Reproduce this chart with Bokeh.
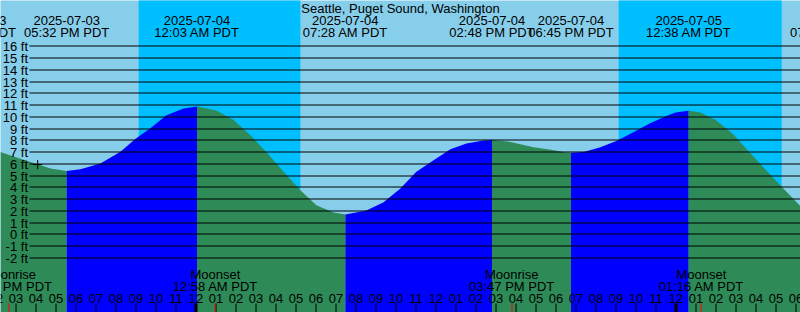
import math
import pandas as pd
from bokeh.plotting import figure
from bokeh.models import Range1d
from bokeh.core.properties import value
from bokeh.embed import file_html
from bokeh.resources import INLINE

# ---------------- data ----------------
title = "Seattle, Puget Sound, Washington"
ref_time = pd.Timestamp("2025-07-04 00:00")   # hours below are counted from this instant (PDT)

tide_event_times = ["2025-07-03 12:52", "2025-07-03 17:32", "2025-07-04 00:03", "2025-07-04 07:28",
                    "2025-07-04 14:48", "2025-07-04 18:45", "2025-07-05 00:38", "2025-07-05 07:50"]
tide_event_kinds = ["high", "low", "high", "low", "high", "low", "high", "low"]

# water level (ft), hours relative to 2025-07-04 00:00 PDT
curve_hours = [-9.78, -8.78, -7.92, -7.27, -6.47, -5.78, -4.78, -3.78, -3.02, -2.28, -1.48, -0.62,
               0.05, 1.02, 1.88, 2.72, 3.58, 4.38, 5.22, 6.02, 6.88, 7.47, 8.52, 9.38, 10.22,
               11.02, 11.88, 12.72, 13.52, 14.38, 14.80, 15.72, 16.88, 17.68, 18.52, 18.75, 19.38,
               20.18, 21.02, 21.82, 22.68, 23.52, 23.98, 24.63, 25.22, 25.98, 26.82, 27.62, 28.48,
               29.32, 30.22, 30.40]
curve_levels = [6.98, 6.40, 5.93, 5.56, 5.35, 5.50, 6.00, 7.00, 8.10, 9.00, 10.10, 10.67,
                10.85, 10.50, 9.70, 8.40, 6.84, 5.28, 3.72, 2.44, 1.82, 1.65, 2.00, 2.70, 3.86,
                5.28, 6.27, 7.20, 7.70, 7.95, 8.00, 7.83, 7.38, 7.18, 6.93, 6.90, 6.98,
                7.35, 7.90, 8.60, 9.40, 10.04, 10.33, 10.48, 10.33, 9.70, 8.55, 7.05, 5.45,
                3.95, 2.35, 2.20]

sunset_times = ["2025-07-03 21:08", "2025-07-04 21:08"]
sunrise_times = ["2025-07-04 05:13", "2025-07-05 05:17"]

moon_event_times = ["2025-07-03 14:40", "2025-07-04 00:58", "2025-07-04 15:47", "2025-07-05 01:16"]
moon_event_names = ["Moonrise", "Moonset", "Moonrise", "Moonset"]

level_ticks_ft = list(range(-2, 17))
mark_time = "2025-07-03 16:05"
mark_level = 5.9

# ---------------- styling / scale ----------------
W, H = 800, 312
PX_PER_HOUR = 20.0
PX_PER_FT = 11.75
REF_PX = 195.5       # pixel column of ref_time
ZERO_PX = 233.4      # pixel row of 0 ft
X0 = -REF_PX / PX_PER_HOUR
X1 = X0 + W / PX_PER_HOUR
Y1 = ZERO_PX / PX_PER_FT
Y0 = Y1 - H / PX_PER_FT
TEXT_DY = -4.5       # correction between requested and drawn baseline

DAY = "#87CEEB"
NIGHT = "#00BFFF"
FLOOD = "#0000FF"
EBB = "#2E8B57"
FONT = value("Liberation Sans")
FS = "13px"


def hrs(t):
    return (pd.Timestamp(t) - ref_time) / pd.Timedelta(hours=1)


def py(pixel_row):
    return Y1 - pixel_row / PX_PER_FT


def ty(baseline_row):
    return py(baseline_row + TEXT_DY)


def px(pixel_col):
    return X0 + pixel_col / PX_PER_HOUR


def snap_x(h):
    col = math.floor(REF_PX + h * PX_PER_HOUR)
    return px(col + 0.5)


def label(x, y, s, align="center"):
    p.text(x=[x], y=[y], text=[s], text_font=FONT, text_font_size=FS,
           text_align=align, text_baseline="alphabetic", text_color="black")


p = figure(width=W, height=H, x_range=Range1d(X0, X1), y_range=Range1d(Y0, Y1),
           output_backend="svg", toolbar_location=None, min_border=0,
           x_axis_location=None, y_axis_location=None, title_location=None)
p.outline_line_color = None
p.background_fill_color = DAY
p.border_fill_color = DAY
p.grid.visible = False

# night bands
for s, r in zip(sunset_times, sunrise_times):
    p.quad(left=hrs(s), right=hrs(r), bottom=Y0 - 1, top=Y1 + 1, fill_color=NIGHT, line_color=None)

# tide fill, blue while rising, green while falling
ev_h = [hrs(t) for t in tide_event_times]
for i in range(len(ev_h) - 1):
    a, b = ev_h[i], ev_h[i + 1]
    xs = [h for h in curve_hours if a - 0.02 <= h <= b + 0.02]
    ys = [lv for h, lv in zip(curve_hours, curve_levels) if a - 0.02 <= h <= b + 0.02]
    if len(xs) < 2:
        continue
    color = FLOOD if tide_event_kinds[i + 1] == "high" else EBB
    p.varea(x=xs, y1=[Y0 - 1] * len(xs), y2=ys, fill_color=color)

# level lines and labels
line_x0 = px(29)
for ft in level_ticks_ft:
    row = math.floor(ZERO_PX + 0.5 - ft * PX_PER_FT)
    yc = py(row + 0.5)
    p.segment(x0=line_x0, y0=yc, x1=X1 + 1, y1=yc, line_color="black", line_width=1)
    label(px(27.5), ty(row + 0.5 + 4.6), f"{ft} ft", align="right")

# "+" mark
p.scatter(x=[hrs(mark_time)], y=[mark_level], marker="cross", size=9, line_color="black", line_width=1)

# title
label(px(400), ty(12), title)

# tide event labels
for t in tide_event_times:
    ts = pd.Timestamp(t)
    label(hrs(t), ty(24), ts.strftime("%Y-%m-%d"))
    label(hrs(t), ty(36), ts.strftime("%I:%M %p PDT"))

# moon event labels
for t, name in zip(moon_event_times, moon_event_names):
    ts = pd.Timestamp(t)
    label(hrs(t), ty(278.5), name)
    label(hrs(t), ty(290), ts.strftime("%I:%M %p PDT"))

# hour ticks & labels
hour_times = pd.date_range("2025-07-03 14:00", "2025-07-05 07:00", freq="1h")
for ht in hour_times:
    h = hrs(ht)
    label(h, ty(302), ht.strftime("%I"))
    lw = 3 if ht.hour == 0 else 1
    p.segment(x0=snap_x(h), y0=py(303), x1=snap_x(h), y1=py(313), line_color="black", line_width=lw)

for t in moon_event_times:
    h = hrs(t)
    p.segment(x0=snap_x(h), y0=py(303), x1=snap_x(h), y1=py(313), line_color="#FF0000", line_width=1)

open("out.html", "w").write(file_html(p, INLINE))
